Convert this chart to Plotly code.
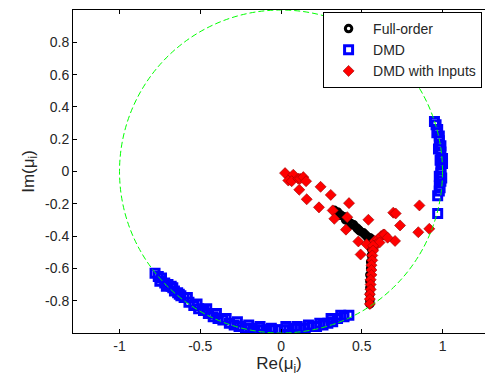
import plotly.graph_objects as go

# ---- data ----
full_x = [0.33, 0.35, 0.37, 0.39, 0.41, 0.43, 0.45, 0.47, 0.49, 0.51, 0.53, 0.55, 0.56, 0.57, 0.565,
          0.56, 0.56, 0.555, 0.555, 0.55, 0.55, 0.55, 0.55, 0.55, 0.55,
          0.36, 0.40, 0.44, 0.48, 0.52, 0.545]
full_y = [-0.24, -0.25, -0.27, -0.28, -0.30, -0.32, -0.33, -0.35, -0.37, -0.38, -0.40, -0.41, -0.42, -0.43, -0.45,
          -0.48, -0.52, -0.56, -0.60, -0.64, -0.68, -0.72, -0.76, -0.80, -0.82,
          -0.27, -0.30, -0.33, -0.36, -0.39, -0.43]

dmd_x = [-0.78, -0.76, -0.74, -0.72, -0.70, -0.68, -0.66, -0.64, -0.62, -0.60, -0.57, -0.54, -0.51, -0.48,
         -0.45, -0.42, -0.39, -0.36, -0.32, -0.29, -0.26, -0.22, -0.19, -0.16, -0.12, -0.09, -0.05, -0.02,
         0.02, 0.05, 0.09, 0.12, 0.15, 0.19, 0.22, 0.26, 0.29, 0.32, 0.35, 0.39, 0.42,
         -0.75, -0.71, -0.67, -0.63, -0.58, -0.52, -0.46, -0.40, -0.34, -0.27, -0.20, -0.13, -0.06,
         0.03, 0.10, 0.17, 0.24, 0.31, 0.37,
         0.95, 0.96, 0.97, 0.98, 0.98, 0.99, 0.99, 1.00, 1.00, 0.99, 0.99, 0.98, 0.99, 0.98, 0.98, 0.97, 0.97,
         0.965, 0.975, 0.985, 0.995, 0.985]
dmd_y = [-0.63, -0.65, -0.66, -0.69, -0.70, -0.71, -0.74, -0.75, -0.77, -0.78, -0.81, -0.83, -0.85, -0.86,
         -0.88, -0.90, -0.91, -0.92, -0.94, -0.95, -0.96, -0.97, -0.97, -0.98, -0.98, -0.98, -0.98, -0.98,
         -0.98, -0.98, -0.97, -0.97, -0.97, -0.96, -0.96, -0.95, -0.94, -0.93, -0.91, -0.90, -0.89,
         -0.68, -0.71, -0.72, -0.76, -0.78, -0.82, -0.85, -0.88, -0.91, -0.93, -0.95, -0.96, -0.97,
         -0.96, -0.96, -0.95, -0.94, -0.91, -0.89,
         0.31, 0.29, 0.26, 0.22, 0.19, 0.16, 0.12, 0.08, 0.05, 0.02, -0.01, -0.03, -0.06, -0.09, -0.12, -0.15, -0.26,
         0.24, 0.14, 0.07, -0.04, -0.10]

inp_x = [0.025, 0.045, 0.076, 0.066, 0.107, 0.118, 0.138, 0.113, 0.155, 0.245, 0.159, 0.308, 0.235, 0.421,
         0.32, 0.33, 0.41, 0.541, 0.402, 0.479, 0.493, 0.634, 0.706, 0.695, 0.71, 0.857, 0.737, 0.85, 0.918,
         0.58, 0.60, 0.62, 0.64, 0.59, 0.61, 0.66, 0.57, 0.53,
         0.57, 0.57, 0.565, 0.565, 0.56, 0.56, 0.56, 0.555, 0.555, 0.555, 0.55, 0.55, 0.55]
inp_y = [-0.01, -0.056, -0.02, -0.06, -0.045, -0.045, -0.035, -0.113, -0.06, -0.095, -0.172, -0.145, -0.222, -0.196,
         -0.241, -0.293, -0.283, -0.299, -0.36, -0.433, -0.514, -0.39, -0.43, -0.255, -0.26, -0.21, -0.334, -0.376, -0.355,
         -0.43, -0.42, -0.40, -0.39, -0.45, -0.44, -0.41, -0.48, -0.45,
         -0.46, -0.49, -0.52, -0.55, -0.58, -0.61, -0.64, -0.67, -0.70, -0.73, -0.76, -0.79, -0.82]

x_ticks = [-1, -0.5, 0, 0.5, 1]
x_tick_text = ["-1", "-0.5", "0", "0.5", "1"]
y_ticks = [-0.8, -0.6, -0.4, -0.2, 0, 0.2, 0.4, 0.6, 0.8]
y_tick_text = ["-0.8", "-0.6", "-0.4", "-0.2", "0", "0.2", "0.4", "0.6", "0.8"]

fig = go.Figure()
fig.add_trace(go.Scatter(x=dmd_x, y=dmd_y, mode="markers", name="DMD", legendgroup="b", legendrank=2,
                         marker=dict(symbol="square-open", size=8, color="#0000ff", line=dict(width=3, color="#0000ff"))))
fig.add_trace(go.Scatter(x=full_x, y=full_y, mode="markers", name="Full-order", legendgroup="a", legendrank=1,
                         marker=dict(symbol="circle-open", size=6.5, color="#000000", line=dict(width=3, color="#000000"))))
fig.add_trace(go.Scatter(x=inp_x, y=inp_y, mode="markers", name="DMD with Inputs", legendgroup="c", legendrank=3,
                         marker=dict(symbol="diamond", size=8.5, color="#ff0000", line=dict(width=0.6, color="#990000"))))

fig.add_shape(type="circle", xref="x", yref="y", x0=-1, y0=-1, x1=1, y1=1,
              line=dict(color="#00ff00", width=1, dash="6px,3px"), layer="above")

fig.update_layout(
    width=485, height=377,
    margin=dict(l=73, r=0, t=10, b=44, autoexpand=False),
    paper_bgcolor="white", plot_bgcolor="white",
    font=dict(family="Liberation Sans, Arial, sans-serif", size=14, color="#262626"),
    showlegend=True,
    legend=dict(x=0.607, y=0.994, xanchor="left", yanchor="top", bgcolor="white",
                bordercolor="#000000", borderwidth=1, font=dict(size=14, color="#262626"),
                tracegroupgap=0, itemwidth=39, traceorder="normal"),
    xaxis=dict(range=[-1.288, 1.263], tickvals=x_ticks, ticktext=x_tick_text, ticks="inside", ticklen=4,
               tickcolor="#000", showline=True, linecolor="#000", linewidth=1, mirror="ticks",
               showgrid=False, zeroline=False, title=dict(text="Re(μ<sub>i</sub>)", standoff=4)),
    yaxis=dict(range=[-1.0, 1.0], tickvals=y_ticks, ticktext=y_tick_text, ticks="inside", ticklen=4,
               tickcolor="#000", showline=True, linecolor="#000", linewidth=1, mirror=False,
               showgrid=False, zeroline=False, title=dict(text="Im(μ<sub>i</sub>)", standoff=6)),
)

fig.write_html("out.html")
